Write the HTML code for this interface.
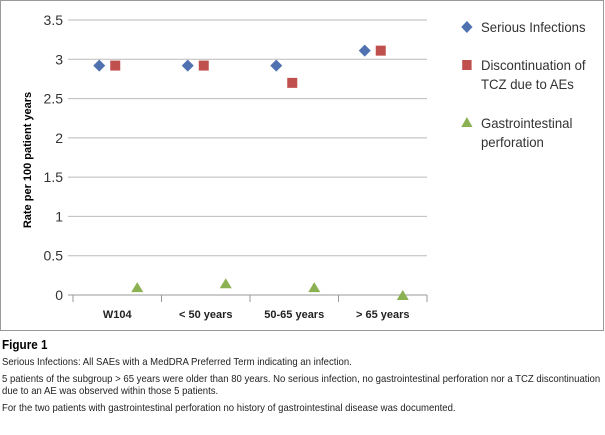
<!DOCTYPE html>
<html><head><meta charset="utf-8"><style>
body{margin:0;background:#fff;width:605px;height:435px;overflow:hidden;font-family:"Liberation Sans",sans-serif;}
svg{position:absolute;left:0;top:0}
.cap{position:absolute;left:2px;font-size:10.5px;color:#222;line-height:12px;white-space:nowrap;transform:scaleX(0.91);transform-origin:0 0}
</style></head><body>
<svg id="chart" width="605" height="332">
<rect x="0.5" y="0.5" width="603" height="330" fill="#fff" stroke="#999"/>
<g id="grid"></g><g id="marks"></g>
<text transform="translate(31,160) rotate(-90)" text-anchor="middle" font-size="11" font-weight="bold" fill="#000">Rate per 100 patient years</text>
<g font-size="14" fill="#333" transform="translate(481,0) scale(0.94,1) translate(-481,0)">
<g><path d="M466,21 L472,27 L466,33 L460,27Z" fill="#4f71b0"/><text x="481" y="32">Serious Infections</text></g>
<g><rect x="461" y="60" width="10" height="10" fill="#c0504d"/><text x="481" y="70">Discontinuation of</text><text x="481" y="89">TCZ due to AEs</text></g>
<g><path d="M460,127 L472,127 L466,117Z" fill="#8bb152"/><text x="481" y="128">Gastrointestinal</text><text x="481" y="147">perforation</text></g>
</g>
</svg>
<div class="cap" style="top:339px;font-size:13px;font-weight:bold;color:#000;transform:scaleX(0.9)">Figure 1</div>
<div class="cap" style="top:356px">Serious Infections: All SAEs with a MedDRA Preferred Term indicating an infection.</div>
<div class="cap" style="top:373px">5 patients of the subgroup &gt; 65 years were older than 80 years. No serious infection, no gastrointestinal perforation nor a TCZ discontinuation<br>due to an AE was observed within those 5 patients.</div>
<div class="cap" style="top:402px">For the two patients with gastrointestinal perforation no history of gastrointestinal disease was documented.</div>
<script>
const categories=["W104","< 50 years","50-65 years","> 65 years"];
const seriousInfections=[2.92,2.92,2.92,3.11];
const discontinuation=[2.92,2.92,2.70,3.11];
const giPerforation=[0.10,0.15,0.10,0.0];
const yTicks=[0,0.5,1,1.5,2,2.5,3,3.5];
const NS="http://www.w3.org/2000/svg";
const x0=73,x1=427,yb=295,yt=20,yMax=3.5;
const cw=(x1-x0)/categories.length;
const X=i=>x0+cw*(i+0.5);
const Y=v=>yb-(v/yMax)*(yb-yt);
function mk(tag,attrs,parent,txt){const e=document.createElementNS(NS,tag);for(const k in attrs)e.setAttribute(k,attrs[k]);if(txt!==undefined)e.textContent=txt;parent.appendChild(e);return e;}
const g=document.getElementById('grid'),m=document.getElementById('marks');
yTicks.forEach(t=>{
 const l=mk('line',{x1:x0-5,x2:x1,y1:Y(t),y2:Y(t),stroke:t===0?'#999':'#bbb','stroke-width':1},g);
 
 
 const tx=mk('text',{x:x0-10,y:Y(t)+5,'text-anchor':'end','font-size':14,fill:'#333'},g,String(t));
 
 
});
for(let i=0;i<=categories.length;i++){
 const l=mk('line',{x1:x0+cw*i,x2:x0+cw*i,y1:yb,y2:yb+7,stroke:'#999'},g);
 
 
}
categories.forEach((c,i)=>{
 const t=mk('text',{x:X(i),y:318,'text-anchor':'middle','font-size':11,'font-weight':'bold',fill:'#222'},g,c);
 
 
 const cx=X(i)-18,cy=Y(seriousInfections[i]);
 const d=mk('path',{d:`M${cx},${cy-6}L${cx+6},${cy}L${cx},${cy+6}L${cx-6},${cy}Z`,fill:'#4f71b0'},m);
 
 
 const sx=X(i)-2,sy=Y(discontinuation[i]);
 const s=mk('rect',{x:sx-5,y:sy-5,width:10,height:10,fill:'#c0504d'},m);
 
 
 const tx=X(i)+20,ty=Y(giPerforation[i]);
 const tr=mk('path',{d:`M${tx-6},${ty+5}L${tx+6},${ty+5}L${tx},${ty-5}Z`,fill:'#8bb152'},m);
 
 
});
</script>
</body></html>
